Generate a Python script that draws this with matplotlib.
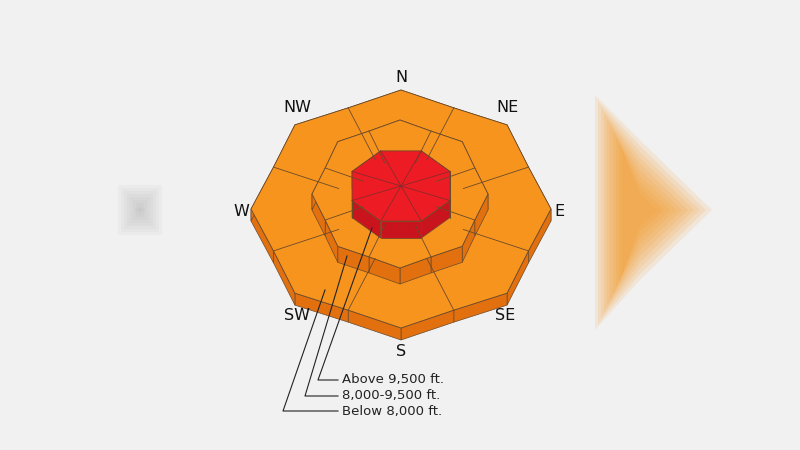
import numpy as np
import matplotlib
matplotlib.use("Agg")
import matplotlib.pyplot as plt
from matplotlib.patches import Polygon

directions = ["N", "NE", "E", "SE", "S", "SW", "W", "NW"]
bands = ["Below 8,000 ft.", "8,000-9,500 ft.", "Above 9,500 ft."]
band_danger = ["Considerable", "Considerable", "High"]
danger_top = {"Considerable": "#F7941D", "High": "#ED1C24"}
danger_side = {"Considerable": "#E2700F", "High": "#C9141D"}

fig = plt.figure(figsize=(8, 4.5), dpi=100)
fig.patch.set_facecolor("#F1F1F1")
ax = fig.add_axes([0, 0, 1, 1])
ax.set_xlim(0, 800); ax.set_ylim(450, 0); ax.axis("off")

# blurred background hints
for k in range(10):
    g = 6 * k
    ax.add_patch(Polygon([(595 + g / 2, 95 + g), (640, 140 + g), (712 - g, 210), (640, 280 - g), (595 + g / 2, 330 - g)],
                         closed=True, fc="#F7941D", ec="none", alpha=0.12))
    ax.add_patch(Polygon([(118 + g / 2, 185 + g / 2), (162 - g / 2, 185 + g / 2), (162 - g / 2, 235 - g / 2), (118 + g / 2, 235 - g / 2)],
                         closed=True, fc="#A8A8A8", ec="none", alpha=0.07))

def pt(c, r, ang):
    cx, cy, rx, ry = c
    a = np.radians(ang)
    return (cx + rx * r * np.sin(a), cy - ry * r * np.cos(a))

def star(c, inner=0.92):
    pts = []
    for i in range(8):
        pts.append(pt(c, 1.0, i * 45))
        pts.append(pt(c, inner, i * 45 + 22.5))
    return pts

def octagon(c):
    return [pt(c, 1.0, i * 45 + 22.5) for i in range(8)]

edge = "#6b4a2a"
layers = [  # (cx, cy, rx, ry, depth)
    (401, 209, 150, 119, 12),
    (400, 194, 88, 74, 16),
    (401, 186, 53, 38, 17),
]

for li, (cx, cy, rx, ry, d) in enumerate(layers):
    dz = band_danger[li]
    c = (cx, cy, rx, ry)
    pts = star(c) if li < 2 else octagon(c)
    n = len(pts)
    for i in range(n):
        p1, p2 = pts[i], pts[(i + 1) % n]
        quad = [p1, p2, (p2[0], p2[1] + d), (p1[0], p1[1] + d)]
        ax.add_patch(Polygon(quad, closed=True, fc=danger_side[dz], ec=edge, lw=0.5))
    ax.add_patch(Polygon(pts, closed=True, fc=danger_top[dz], ec=edge, lw=0.6))
    if li < 2:
        for i in range(8):
            p = pt(c, 0.92, i * 45 + 22.5)
            q = pt(c, 0.45, i * 45 + 22.5)
            ax.plot([p[0], q[0]], [p[1], q[1]], color=edge, lw=0.6)
    else:
        for p in pts:
            ax.plot([cx, p[0]], [cy, p[1]], color="#8a2a2a", lw=0.6)

# direction labels
lab_pos = [(401, 78), (507, 107), (559, 211), (505, 315), (401, 352), (297, 315), (241, 211), (297, 107)]
for name, (x, y) in zip(directions, lab_pos):
    ax.text(x, y, name, ha="center", va="center", fontsize=11.5, family="DejaVu Sans", color="#111111")

# leader lines and band labels
label_y = [411, 396, 380]
line_x = [283, 305, 318]
targets = [(325, 290), (347, 256), (372, 228)]
for b, ly, lx, (tx, ty) in zip(bands, label_y, line_x, targets):
    ax.plot([338, lx, tx], [ly, ly, ty], color="#222222", lw=0.8)
    ax.text(342, ly, b, ha="left", va="center", fontsize=9.5, color="#222222")

fig.savefig("out.png", dpi=100, facecolor=fig.get_facecolor())
